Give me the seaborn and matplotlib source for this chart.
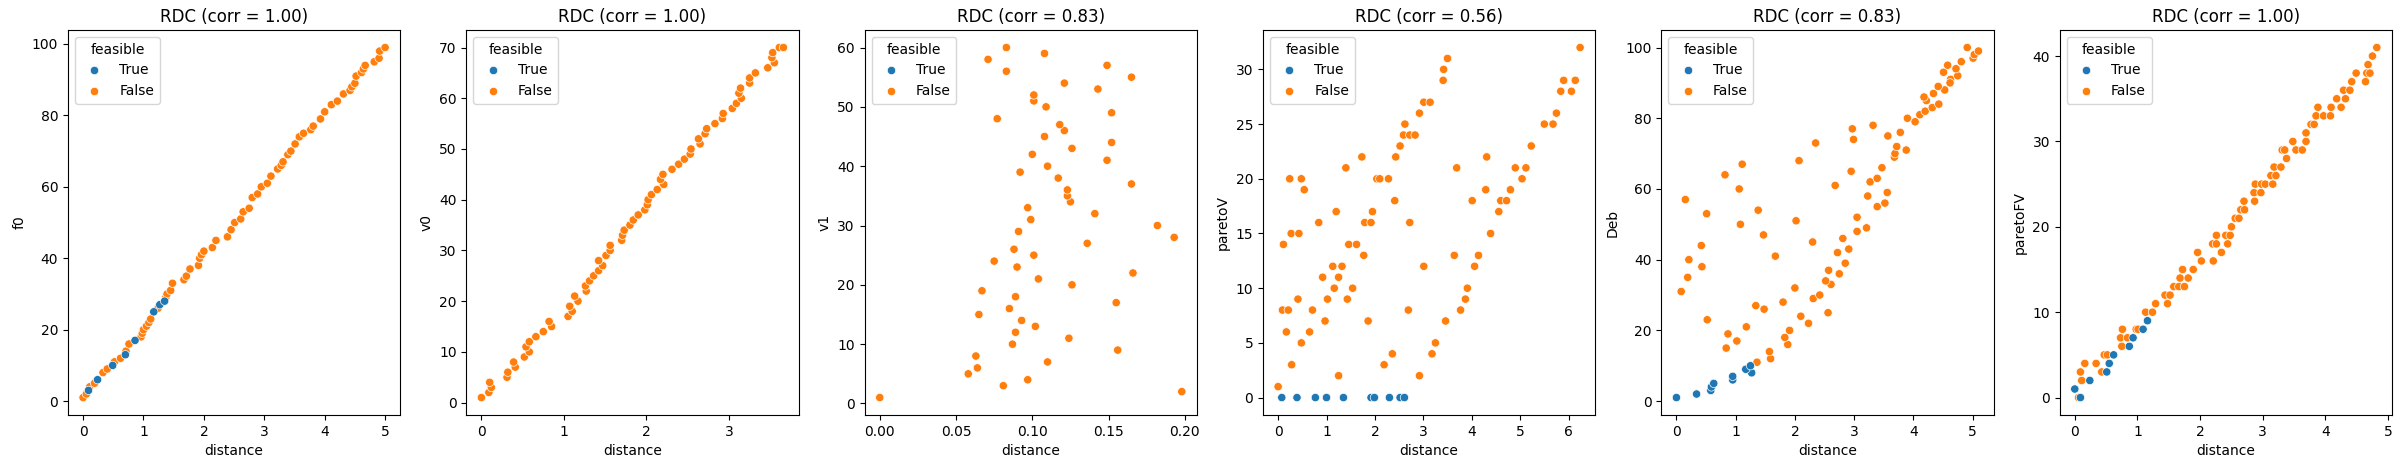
import numpy as np
import pandas as pd
import matplotlib
matplotlib.use("Agg")
import matplotlib.pyplot as plt
import seaborn as sns

# ---------------- data ----------------
# panel 1: f0
f0_dist_true = [0.09, 0.24, 0.49, 0.70, 0.86, 1.17, 1.27, 1.35]
f0_true = [3, 6, 10, 13, 17, 25, 27, 28]
f0_dist_false = [0.0, 0.055, 0.11, 0.19, 0.33, 0.40, 0.52, 0.62, 0.71, 0.76, 0.96, 0.98, 1.0, 1.05,
                 1.09, 1.12, 1.24, 1.37, 1.39, 1.45, 1.48, 1.67, 1.71, 1.77, 1.91, 1.93, 1.96, 2.0,
                 2.14, 2.2, 2.39, 2.45, 2.51, 2.61, 2.65, 2.75, 2.8, 2.89, 2.95, 3.05, 3.11, 3.22,
                 3.28, 3.31, 3.39, 3.44, 3.51, 3.58, 3.65, 3.77, 3.81, 3.93, 4.0, 4.11, 4.21, 4.31,
                 4.42, 4.45, 4.5, 4.52, 4.61, 4.64, 4.67, 4.82, 4.9, 4.91, 5.0]
f0_false = [1, 2, 4, 5, 8, 9, 11, 12, 14, 16, 18, 19, 20, 21,
            22, 23, 26, 29, 30, 31, 33, 34, 35, 37, 38, 40, 41, 42,
            43, 45, 46, 48, 50, 51, 53, 54, 57, 58, 60, 61, 63, 65,
            66, 67, 69, 70, 72, 74, 75, 76, 77, 79, 81, 83, 84, 86,
            87, 88, 89, 91, 92, 93, 94, 95, 96, 98, 99]

# panel 2: v0
v0_dist_true = []
v0_true = []
v0_dist_false = [0.0, 0.09, 0.12, 0.10, 0.31, 0.32, 0.41, 0.39, 0.52, 0.58, 0.54, 0.58, 0.66, 0.75,
                 0.85, 0.82, 1.05, 1.10, 1.07, 1.17, 1.13, 1.27, 1.26, 1.31, 1.36, 1.42, 1.47, 1.42,
                 1.51, 1.56, 1.56, 1.70, 1.71, 1.73, 1.80, 1.84, 1.90, 1.98, 2.01, 2.02, 2.06, 2.13,
                 2.21, 2.17, 2.20, 2.31, 2.39, 2.46, 2.53, 2.54, 2.65, 2.63, 2.71, 2.73, 2.83, 2.92,
                 2.93, 3.04, 3.09, 3.15, 3.12, 3.14, 3.25, 3.25, 3.32, 3.47, 3.55, 3.52, 3.53, 3.61,
                 3.66]
v0_false = [1, 2, 3, 4, 5, 6, 7, 8, 9, 10, 11, 12, 13, 14,
            15, 16, 17, 18, 19, 20, 21, 22, 23, 24, 25, 26, 27, 28,
            29, 30, 31, 32, 33, 34, 35, 36, 37, 38, 39, 40, 41, 42,
            43, 44, 45, 46, 47, 48, 49, 50, 51, 52, 53, 54, 55, 56,
            57, 58, 59, 60, 61, 62, 63, 64, 65, 66, 67, 68, 69, 70,
            70]

# panel 3: v1
v1_dist_true = []
v1_true = []
v1_dist_false = [0.0, 0.198, 0.081, 0.097, 0.058, 0.064, 0.110, 0.063, 0.156, 0.087, 0.124, 0.089,
                 0.102, 0.093, 0.065, 0.085, 0.155, 0.089, 0.067, 0.126, 0.104, 0.166, 0.090, 0.075,
                 0.101, 0.088, 0.136, 0.193, 0.091, 0.182, 0.099, 0.141, 0.097, 0.125, 0.123, 0.123,
                 0.165, 0.117, 0.092, 0.110, 0.149, 0.100, 0.126, 0.152, 0.108, 0.121, 0.118, 0.077,
                 0.152, 0.109, 0.101, 0.101, 0.143, 0.121, 0.165, 0.083, 0.149, 0.071, 0.108, 0.083]
v1_false = [1, 2, 3, 4, 5, 6, 7, 8, 9, 10, 11, 12,
            13, 14, 15, 16, 17, 18, 19, 20, 21, 22, 23, 24,
            25, 26, 27, 28, 29, 30, 31, 32, 33, 34, 35, 36,
            37, 38, 39, 40, 41, 42, 43, 44, 45, 46, 47, 48,
            49, 50, 51, 52, 53, 54, 55, 56, 57, 58, 59, 60]

# panel 4: paretoV
pv_dist_true = [0.076, 0.39, 0.77, 1.0, 1.35, 1.92, 1.99, 2.3, 2.52, 2.61]
pv_true = [0, 0, 0, 0, 0, 0, 0, 0, 0, 0]
pv_dist_false = [0.0, 1.25, 2.92, 0.28, 2.19, 2.36, 3.18, 0.48, 3.25, 0.17, 0.65, 0.97, 1.86, 3.46,
                 0.09, 0.21, 0.71, 2.69, 3.77, 0.41, 1.02, 1.43, 3.87, 1.16, 1.54, 3.91, 0.92, 1.25,
                 1.13, 1.32, 3.01, 4.06, 3.64, 1.77, 4.14, 0.11, 1.46, 1.62, 0.27, 0.43, 4.39, 0.84,
                 1.79, 1.92, 2.72, 1.2, 1.95, 4.56, 2.41, 4.01, 4.6, 4.72, 0.54, 4.29, 4.8, 0.24,
                 0.48, 2.04, 2.1, 2.28, 5.04, 1.4, 3.69, 4.9, 5.12, 1.73, 4.31, 2.43, 5.23, 2.52,
                 2.59, 2.72, 2.83, 2.62, 5.5, 5.68, 2.92, 5.75, 3.01, 3.14, 5.84, 6.06, 3.41, 5.9,
                 6.14, 3.42, 3.5, 6.24]
pv_false = [1, 2, 2, 3, 3, 4, 4, 5, 5, 6, 6, 7, 7, 7,
            8, 8, 8, 8, 8, 9, 9, 9, 9, 10, 10, 10, 11, 11,
            12, 12, 12, 12, 13, 13, 13, 14, 14, 14, 15, 15, 15, 16,
            16, 16, 16, 17, 17, 17, 18, 18, 18, 18, 19, 19, 19, 20,
            20, 20, 20, 20, 20, 21, 21, 21, 21, 22, 22, 22, 23, 23,
            24, 24, 24, 25, 25, 25, 26, 26, 27, 27, 28, 28, 29, 29,
            29, 30, 31, 32]

# panel 5: Deb
deb_dist_true = [0.0, 0.34, 0.58, 0.59, 0.63, 0.95, 0.95, 1.27, 1.17, 1.25]
deb_true = [1, 2, 3, 4, 5, 6, 7, 8, 9, 10]
deb_dist_false = [1.36, 1.59, 1.57, 0.84, 1.88, 1.83, 1.02, 0.87, 1.91, 1.18, 2.23, 0.52, 2.1, 2.56,
                  1.48, 1.34, 1.8, 2.31, 2.42, 2.0, 0.08, 2.61, 2.52, 0.19, 2.75, 2.57, 2.85, 0.43,
                  0.21, 1.67, 2.72, 2.91, 0.42, 2.81, 2.3, 1.47, 3.05, 3.21, 1.08, 2.02, 3.05, 0.51,
                  1.38, 3.39, 3.52, 0.15, 3.23, 3.56, 1.06, 2.68, 3.27, 3.39, 0.82, 2.95, 3.47, 2.07,
                  1.11, 3.68, 3.69, 3.72, 3.88, 2.35, 2.99, 3.57, 3.78, 2.97, 3.32, 4.03, 3.9, 4.11,
                  4.2, 4.32, 4.43, 4.22, 4.18, 4.53, 4.34, 4.42, 4.63, 4.62, 4.75, 4.51, 4.72, 4.58,
                  4.81, 5.01, 5.03, 5.1, 4.91]
deb_false = [11, 12, 14, 15, 16, 18, 17, 19, 20, 21, 22, 23, 24, 25,
             26, 27, 28, 29, 30, 32, 31, 33, 34, 35, 36, 37, 39, 38,
             40, 41, 42, 43, 44, 46, 45, 47, 48, 49, 50, 51, 52, 53,
             54, 55, 56, 57, 58, 59, 60, 61, 62, 63, 64, 65, 66, 68,
             67, 69, 70, 72, 71, 73, 74, 75, 76, 77, 78, 79, 80, 81,
             82, 83, 84, 85, 86, 88, 87, 89, 91, 90, 92, 93, 94, 95,
             96, 97, 98, 99, 100]

# panel 6: paretoFV
pfv_dist_true = [0.0, 0.09, 0.24, 0.51, 0.55, 0.62, 0.87, 0.93, 1.09, 1.16]
pfv_true = [1, 0, 2, 3, 4, 5, 6, 7, 8, 9]
pfv_dist_false = [0.06, 0.11, 0.09, 0.16, 0.34, 0.43, 0.47, 0.52, 0.75, 0.73, 0.84, 0.76, 0.98, 1.01,
                  1.13, 1.24, 1.29, 1.48, 1.44, 1.52, 1.58, 1.66, 1.75, 1.68, 1.81, 1.72, 1.89, 2.02,
                  2.21, 1.96, 2.34, 2.2, 2.26, 2.44, 2.26, 2.41, 2.48, 2.5, 2.56, 2.62, 2.65, 2.71,
                  2.7, 2.87, 2.86, 2.97, 2.88, 2.98, 3.04, 3.16, 3.13, 3.21, 3.18, 3.29, 3.31, 3.35,
                  3.53, 3.63, 3.38, 3.48, 3.69, 3.69, 3.77, 3.82, 3.85, 3.97, 4.08, 3.88, 4.09, 4.25,
                  4.18, 4.32, 4.29, 4.39, 4.42, 4.64, 4.49, 4.66, 4.71, 4.68, 4.75, 4.82]
pfv_false = [0, 2, 3, 4, 4, 3, 5, 5, 6, 7, 7, 8, 8, 8,
             10, 10, 11, 11, 12, 12, 13, 13, 13, 14, 14, 15, 15, 16,
             16, 17, 17, 18, 18, 18, 19, 19, 19, 20, 21, 21, 22, 22,
             23, 23, 24, 24, 25, 25, 25, 25, 26, 26, 27, 27, 29, 29,
             29, 29, 28, 30, 30, 31, 32, 32, 33, 33, 33, 34, 34, 34,
             35, 35, 36, 36, 37, 37, 38, 38, 38, 39, 40, 41]

panels = [
    ("f0", "1.00", f0_dist_false, f0_false, f0_dist_true, f0_true),
    ("v0", "1.00", v0_dist_false, v0_false, v0_dist_true, v0_true),
    ("v1", "0.83", v1_dist_false, v1_false, v1_dist_true, v1_true),
    ("paretoV", "0.56", pv_dist_false, pv_false, pv_dist_true, pv_true),
    ("Deb", "0.83", deb_dist_false, deb_false, deb_dist_true, deb_true),
    ("paretoFV", "1.00", pfv_dist_false, pfv_false, pfv_dist_true, pfv_true),
]

fig, axes = plt.subplots(1, 6, figsize=(24.02, 4.69), dpi=100)
fig.subplots_adjust(left=0.0283, right=0.9958, bottom=0.115, top=0.936, wspace=0.199)

for ax, (name, corr, xf, yf, xt, yt) in zip(axes, panels):
    df = pd.DataFrame({
        "distance": list(xf) + list(xt),
        name: list(yf) + list(yt),
        "feasible": [False] * len(xf) + [True] * len(xt),
    })
    sns.scatterplot(data=df, x="distance", y=name, hue="feasible",
                    hue_order=[True, False], ax=ax)
    ax.set_title(f"RDC (corr = {corr})")
    sns.move_legend(ax, "upper left", title="feasible")

fig.savefig("out.png", dpi=100)
